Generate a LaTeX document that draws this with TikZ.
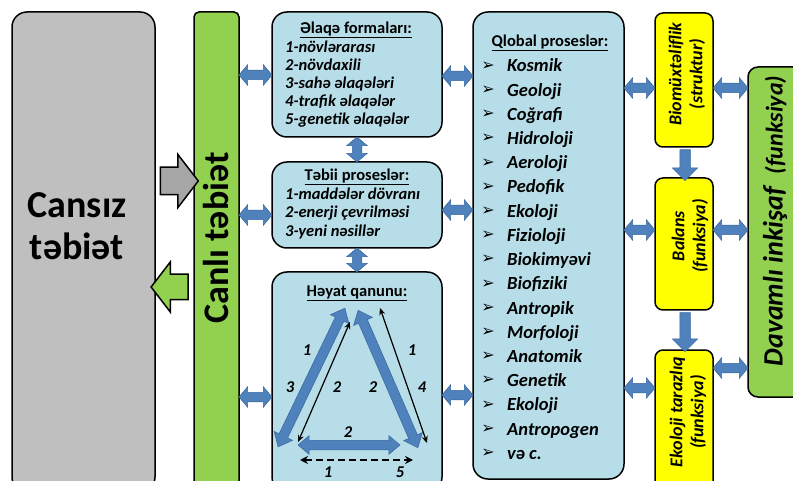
\documentclass[tikz,border=0pt]{standalone}
\usepackage{fontspec}
\setmainfont{Carlito}
\newfontfamily\dejavu{DejaVu Sans}
\usetikzlibrary{shapes.arrows,arrows.meta}
\definecolor{grayfill}{HTML}{BFBFBF}
\definecolor{grayarrow}{HTML}{A6A6A6}
\definecolor{greenfill}{HTML}{92D050}
\definecolor{lightblue}{HTML}{B7DEE8}
\definecolor{yellowfill}{HTML}{FFFF00}
\definecolor{arrowblue}{HTML}{4F81BD}
\definecolor{arrowline}{HTML}{3A679C}
\begin{document}
\begin{tikzpicture}[x=1pt,y=-1pt,
  box/.style={draw=black, line width=1.5pt, inner sep=0pt},
  sdbl/.style={double arrow, draw=arrowline, fill=arrowblue, line width=0.5pt, inner xsep=0pt, inner ysep=4.5pt,
    double arrow head extend=5.5pt, double arrow tip angle=100},
  tdbl/.style={double arrow, draw=arrowline, fill=arrowblue, line width=0.5pt, inner xsep=0pt, inner ysep=4.5pt,
    double arrow head extend=5.5pt, double arrow tip angle=80},
  downarr/.style={single arrow, draw=arrowline, fill=arrowblue, line width=0.5pt, inner xsep=0pt, inner ysep=5pt,
    single arrow head extend=7.5pt, single arrow tip angle=90, rotate=-90},
  bigarr/.style={single arrow, draw=black, line width=1.5pt, inner xsep=0pt,
    single arrow tip angle=105},
  ttl/.style={font=\fontsize{16.5}{18}\selectfont\bfseries, inner sep=0pt},
  itm/.style={font=\fontsize{16.5}{18}\selectfont\bfseries\itshape, inner sep=0pt, anchor=base west},
  qitm/.style={font=\fontsize{18.5}{20}\selectfont\bfseries\itshape, inner sep=0pt, anchor=base west},
  ytxt/.style={font=\fontsize{18}{21}\selectfont\bfseries\itshape, align=center, rotate=90, inner sep=0pt},
  lbl/.style={font=\fontsize{16.5}{18}\selectfont\bfseries\itshape, inner sep=0pt},
  thin/.style={{Stealth[length=7pt,width=6pt]}-{Stealth[length=7pt,width=6pt]}, line width=1.2pt}
]
\useasboundingbox (0,0) rectangle (793,481);
\fill[white] (0,0) rectangle (793,481);

% main boxes
\node[box, fill=grayfill, rounded corners=15pt, minimum width=143pt, minimum height=480pt] (gray) at (83.5,252) {};
\node[box, fill=greenfill, rounded corners=5pt, minimum width=45pt, minimum height=480pt] (canli) at (216.5,252) {};
\node[box, fill=lightblue, rounded corners=15pt, minimum width=170pt, minimum height=125pt] (b1) at (357,74.5) {};
\node[box, fill=lightblue, rounded corners=15pt, minimum width=170pt, minimum height=86pt] (b2) at (357,205) {};
\node[box, fill=lightblue, rounded corners=15pt, minimum width=170pt, minimum height=220pt] (b3) at (357,382) {};
\node[box, fill=lightblue, rounded corners=15pt, minimum width=151pt, minimum height=467pt] (glob) at (548.5,245.5) {};
\node[box, fill=yellowfill, rounded corners=8pt, minimum width=58pt, minimum height=134pt] (y1) at (684,80) {};
\node[box, fill=yellowfill, rounded corners=8pt, minimum width=58pt, minimum height=132pt] (y2) at (684,244) {};
\node[box, fill=yellowfill, rounded corners=8pt, minimum width=58pt, minimum height=147pt] (y3) at (684,423.5) {};
\node[box, fill=greenfill, rounded corners=10pt, minimum width=62pt, minimum height=330pt] (dav) at (779,232) {};

% big texts
\node[font=\fontsize{38}{42}\selectfont\bfseries, align=center, inner sep=0pt] (tcansiz) at (77,226) {Cansız\\təbiət};
\node[font=\fontsize{36}{40}\selectfont\bfseries, rotate=90, inner sep=0pt] (tcanli) at (216.5,238) {Canlı təbiət};
\node[font=\bfseries\itshape, rotate=90, inner sep=0pt] (tdav) at (775,221)
  {\fontsize{28}{30}\selectfont Davamlı inkişaf\ \ \fontsize{24}{30}\selectfont(funksiya)};

% gray and green arrows
\node[bigarr, fill=grayarrow, minimum height=38pt, inner ysep=13pt, single arrow head extend=13pt] (garr) at (174,181) {};
\node[bigarr, fill=greenfill, minimum height=37pt, inner ysep=12pt, single arrow head extend=12.5pt, shape border rotate=180] (grarr) at (174.5,287) {};

% box 1 text
\node[ttl] (t1) at (356,30) {\underline{Əlaqə formaları:}};
\node[itm] (t1a) at (285,53) {1-növlərarası};
\node[itm] (t1b) at (285,71) {2-növdaxili};
\node[itm] (t1c) at (285,89) {3-sahə əlaqələri};
\node[itm] (t1d) at (285,107) {4-trafik əlaqələr};
\node[itm] (t1e) at (285,125) {5-genetik əlaqələr};
% box 2 text
\node[ttl] (t2) at (357,177) {\underline{Təbii proseslər:}};
\node[itm] (t2a) at (285,200) {1-maddələr dövranı};
\node[itm] (t2b) at (285,218) {2-enerji çevrilməsi};
\node[itm] (t2c) at (285,237) {3-yeni nəsillər};
% box 3
\node[ttl] (t3) at (357,293) {\underline{Həyat qanunu:}};

% global list
\node[ttl] (tg) at (550,43) {\underline{Qlobal proseslər:}};
\foreach \w [count=\i] in {Kosmik,Geoloji,Coğrafi,Hidroloji,Aeroloji,Pedofik,Ekoloji,Fizioloji,Biokimyəvi,Biofiziki,Antropik,Morfoloji,Anatomik,Genetik,Ekoloji,Antropogen,və c.}{
  \pgfmathsetmacro\yy{66+24.2*(\i-1)}
  \node[font=\dejavu\fontsize{16}{16}\selectfont, inner sep=0pt] (qb\i) at (488,\yy) {➢};
  \node[qitm] (q\i) at (507,\yy+6) {\w};
}

% yellow texts
\node[ytxt] (ty1) at (687,74) {Biomüxtəliflik\\(struktur)};
\node[ytxt] (ty2) at (690,236) {Balans\\(funksiya)};
\node[ytxt] (ty3) at (688,412) {Ekoloji tarazlıq\\(funksiya)};

% small double arrows
\foreach \yy [count=\i] in {75,215,397}{
  \node[sdbl, minimum height=33pt] (la\i) at (255.5,\yy) {};
}
\foreach \yy [count=\i] in {76,210,395}{
  \node[sdbl, minimum height=31pt] (ra\i) at (457.5,\yy) {};
}
\foreach \yy [count=\i] in {88,230,388}{
  \node[sdbl, minimum height=31pt] (ga\i) at (639.5,\yy) {};
}
\foreach \yy [count=\i] in {88,230,368}{
  \node[sdbl, minimum height=35pt] (da\i) at (730.5,\yy) {};
}
\node[sdbl, minimum height=25pt, rotate=90] (v1) at (357,149.5) {};
\node[sdbl, minimum height=24pt, rotate=90] (v2) at (357,260) {};
\node[downarr, minimum height=31pt] (d1) at (685,162.5) {};
\node[downarr, minimum height=39pt] (d2) at (685,329.5) {};

% triangle
\coordinate (tl) at (278,447);
\coordinate (tt1) at (345,308);
\coordinate (tt2) at (358,310);
\coordinate (tr) at (418,448);
\coordinate (bl) at (298,445);
\coordinate (br) at (400,445);
\path (tl) -- (tt1) node[midway, sloped, tdbl, minimum height=154pt] (arrL) {};
\path (tt2) -- (tr) node[midway, sloped, tdbl, minimum height=150pt] (arrR) {};
\path (bl) -- (br) node[midway, sloped, tdbl, minimum height=102pt, double arrow head extend=4.5pt] (arrB) {};

\coordinate (k1) at (298,442);
\coordinate (k2) at (350,322);
\coordinate (k3) at (380,308);
\coordinate (k4) at (427,443);
\coordinate (k5) at (300,460);
\coordinate (k6) at (413,460);
\draw[thin] (k1) -- (k2);
\draw[thin] (k3) -- (k4);
\draw[{Stealth[length=8pt,width=8pt]}-{Stealth[length=8pt,width=8pt]}, line width=1.8pt, dash pattern=on 7pt off 4pt] (k5) -- (k6);

\node[lbl] (n1) at (307,350) {1};
\node[lbl] (n2) at (290,387) {3};
\node[lbl] (n3) at (337,387) {2};
\node[lbl] (n4) at (373,387) {2};
\node[lbl] (n5) at (412,350) {1};
\node[lbl] (n6) at (422,387) {4};
\node[lbl] (n7) at (348,432) {2};
\node[lbl] (n8) at (328,472) {1};
\node[lbl] (n9) at (400,472) {5};
\end{tikzpicture}
\end{document}
